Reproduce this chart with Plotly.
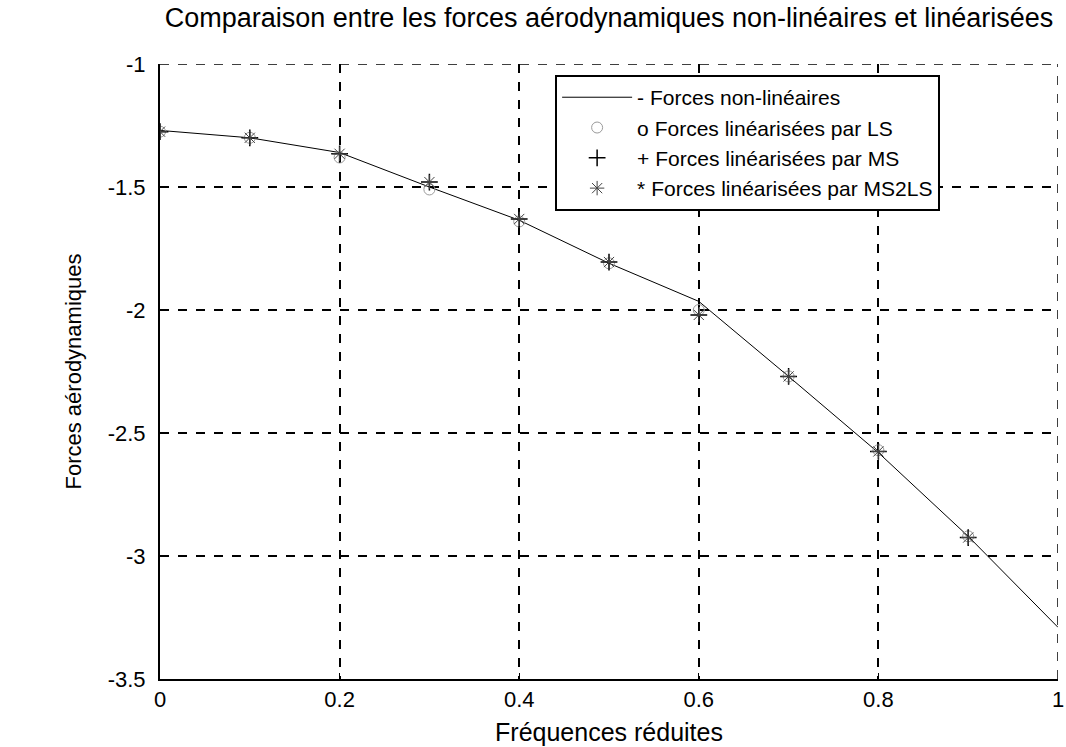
import plotly.graph_objects as go

freq = [0.0, 0.1, 0.2, 0.3, 0.4, 0.5, 0.6, 0.7, 0.8, 0.9, 1.0]
nonlin = [-1.27, -1.30, -1.36, -1.50, -1.635, -1.81, -1.965, -2.27, -2.58, -2.92, -3.29]

freq_m = [0.0, 0.1, 0.2, 0.3, 0.4, 0.5, 0.6, 0.7, 0.8, 0.9]
lin_ls = [-1.275, -1.30, -1.38, -1.51, -1.64, -1.81, -2.00, -2.27, -2.57, -2.92]
lin_ms = [-1.275, -1.30, -1.365, -1.48, -1.63, -1.805, -2.02, -2.27, -2.575, -2.925]
lin_ms2ls = [-1.275, -1.30, -1.365, -1.48, -1.63, -1.805, -2.02, -2.27, -2.575, -2.925]

names = ["- Forces non-linéaires", "o Forces linéarisées par LS",
         "+ Forces linéarisées par MS", "* Forces linéarisées par MS2LS"]
title = "Comparaison entre les forces aérodynamiques non-linéaires et linéarisées"
xlabel = "Fréquences réduites"
ylabel = "Forces aérodynamiques"
xticks = [0, 0.2, 0.4, 0.6, 0.8, 1]
xticklabels = ["0", "0.2", "0.4", "0.6", "0.8", "1"]
yticks = [-3.5, -3, -2.5, -2, -1.5, -1]
yticklabels = ["-3.5", "-3", "-2.5", "-2", "-1.5", "-1"]

FONT = "Arial, Liberation Sans, sans-serif"

fig = go.Figure()
fig.add_trace(go.Scatter(x=freq, y=nonlin, mode="lines", name=names[0],
                         line=dict(color="black", width=1)))
fig.add_trace(go.Scatter(x=freq_m, y=lin_ls, mode="markers", name=names[1],
                         marker=dict(symbol="circle-open", size=11, color="#9a9a9a",
                                     line=dict(width=1, color="#9a9a9a"))))
fig.add_trace(go.Scatter(x=freq_m, y=lin_ms, mode="markers", name=names[2],
                         marker=dict(symbol="cross-thin-open", size=12, color="black",
                                     line=dict(width=1.5, color="black"))))
fig.add_trace(go.Scatter(x=freq_m, y=lin_ms2ls, mode="markers", name=names[3],
                         marker=dict(symbol="asterisk-open", size=12, color="#444444",
                                     line=dict(width=1, color="#444444"))))

# dashed top and right borders (grid lines at the range ends)
fig.add_shape(type="line", xref="paper", yref="y", x0=0, x1=1, y0=-1, y1=-1,
              line=dict(color="black", width=1.5, dash="dash"), layer="below")
fig.add_shape(type="line", xref="x", yref="paper", x0=1, x1=1, y0=0, y1=1,
              line=dict(color="black", width=1.5, dash="dash"), layer="below")

fig.update_layout(
    width=1066, height=747,
    margin=dict(l=160, r=8, t=64, b=68, autoexpand=False),
    paper_bgcolor="white", plot_bgcolor="white",
    font=dict(family=FONT, color="black", size=22),
    title=dict(text=title, x=0.5, xref="paper", y=1 - 18 / 747, yref="container",
               xanchor="center", yanchor="middle", font=dict(size=27, family=FONT)),
    showlegend=True,
    legend=dict(x=0.44, y=0.982, xanchor="left", yanchor="top",
                bgcolor="white", bordercolor="black", borderwidth=2,
                itemwidth=70,
                font=dict(size=21, family=FONT), tracegroupgap=0),
)
fig.update_xaxes(range=[0, 1], tickvals=xticks, ticktext=xticklabels,
                 showgrid=True, gridcolor="black", griddash="dash", gridwidth=1.5,
                 showline=True, linecolor="black", linewidth=2, mirror=False,
                 ticks="inside", ticklen=6, tickcolor="black", zeroline=False,
                 ticklabeloverflow="allow", automargin=False,
                 title=dict(text=xlabel, standoff=12, font=dict(size=25)))
fig.update_yaxes(range=[-3.5, -1], tickvals=yticks, ticktext=yticklabels,
                 showgrid=True, gridcolor="black", griddash="dash", gridwidth=1.5,
                 showline=True, linecolor="black", linewidth=2, mirror=False,
                 ticks="inside", ticklen=6, tickcolor="black", zeroline=False,
                 ticklabelstandoff=8, ticklabeloverflow="allow", automargin=False,
                 title=dict(text=ylabel, standoff=20, font=dict(size=22)))

fig.write_html("out.html")
